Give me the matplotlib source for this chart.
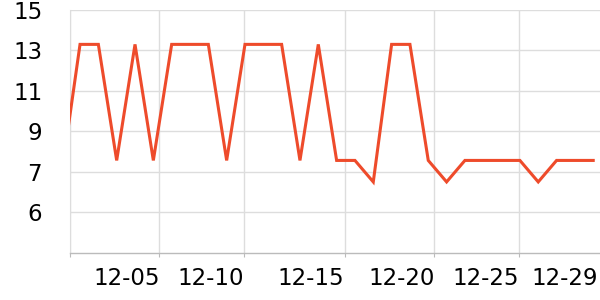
import matplotlib
matplotlib.use("Agg")
import matplotlib.pyplot as plt
import numpy as np

dates = [f"12-{d:02d}" for d in range(1, 31)]
values = [7.4, 13.4, 13.4, 8, 13.4, 8, 13.4, 13.4, 13.4, 8,
          13.4, 13.4, 13.4, 8, 13.4, 8, 8, 7, 13.4, 13.4,
          8, 7, 8, 8, 8, 8, 7, 8, 8, 8]

x_tick_pos = [0.453, 5.335, 9.97, 15.43, 20.34, 24.97]
x_tick_labels = ["", "12-05", "12-10", "12-15", "12-20", "12-25"]
x_last_pos = [29.28]
x_last_label = ["12-29"]

y_step = 1.88
y_tick_pos = [15 - k * y_step for k in range(6)]
y_tick_labels = ["15", "13", "11", "9", "7", "6"]

W, H = 600, 300
fig = plt.figure(figsize=(6, 3), dpi=100)
ax = fig.add_axes([70 / W, 1 - 252.7 / H, 530 / W, (252.7 - 10) / H])

x = np.arange(len(dates))
ax.plot(x, values, color="#EE4B2B", linewidth=2.2, solid_joinstyle="miter", zorder=3)

ax.set_xlim(0.453, 29.37)
ax.set_ylim(15 - 242.7 / 40.4 * y_step, 15)

ax.set_xticks(x_tick_pos)
ax.set_xticklabels(x_tick_labels, ha="right")
ax.set_xticks(x_last_pos, minor=True)
ax.set_xticklabels(x_last_label, minor=True, ha="right")
ax.set_yticks(y_tick_pos)
ax.set_yticklabels(y_tick_labels)

ax.grid(True, which="major", color="#dddddd", linewidth=1)
ax.set_axisbelow(True)

for s in ["top", "right"]:
    ax.spines[s].set_visible(False)
ax.spines["left"].set_color("#dddddd")
ax.spines["bottom"].set_color("#bbbbbb")
ax.spines["bottom"].set_linewidth(1)

ax.tick_params(axis="x", which="major", length=3, color="#bbbbbb", labelsize=16.5, pad=7)
ax.tick_params(axis="x", which="minor", length=0, labelsize=16.5, pad=10)
ax.tick_params(axis="y", length=0, labelsize=16.5, pad=20)
for lbl in ax.get_yticklabels():
    lbl.set_horizontalalignment("right")

fig.savefig("out.png", dpi=100, facecolor="white")
